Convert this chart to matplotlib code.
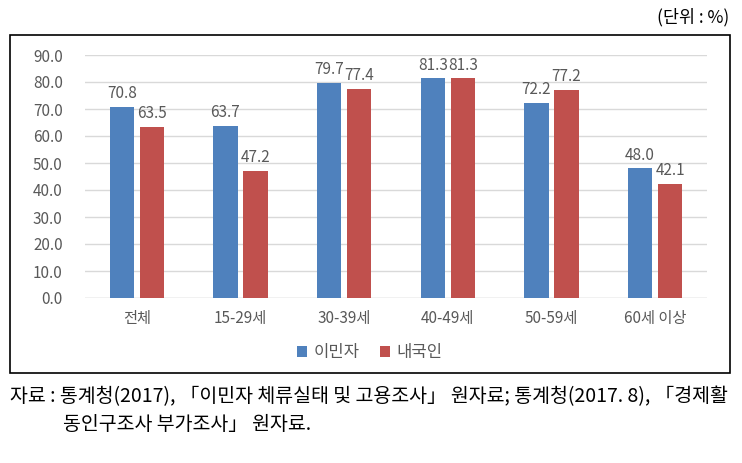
import numpy as np
import matplotlib
matplotlib.use("Agg")
import matplotlib.pyplot as plt
from matplotlib.patches import Rectangle

plt.rcParams['font.family'] = ['Noto Sans CJK KR', 'DejaVu Sans']

# data
categories = ['전체', '15-29세', '30-39세', '40-49세', '50-59세', '60세 이상']
immigrants = [70.8, 63.7, 79.7, 81.3, 72.2, 48.0]
natives = [63.5, 47.2, 77.4, 81.3, 77.2, 42.1]
series_names = ['이민자', '내국인']
yticks = np.arange(0, 91, 10)

blue = '#4F81BD'
red = '#C0504D'
grey = '#595959'

W, H = 742, 463
fig = plt.figure(figsize=(W / 100, H / 100), dpi=100)

# chart frame
fig.patches.append(Rectangle((10 / W, 1 - 373 / H), 720 / W, 338 / H,
                             transform=fig.transFigure, fill=False,
                             edgecolor='black', linewidth=1.2))

ax = fig.add_axes([85 / W, 1 - 298 / H, 622 / W, 243 / H])
x = np.arange(len(categories))
bw = 0.235
off = 0.145
b1 = ax.bar(x - off, immigrants, bw, color=blue, label=series_names[0], zorder=3)
b2 = ax.bar(x + off, natives, bw, color=red, label=series_names[1], zorder=3)

for bars in (b1, b2):
    for rect in bars:
        ax.text(rect.get_x() + rect.get_width() / 2, rect.get_height() + 1.8,
                f"{rect.get_height():.1f}", ha='center', va='bottom',
                fontsize=11, color=grey)

ax.set_xlim(-0.5, len(categories) - 0.5)
ax.set_ylim(0, 90)
ax.set_yticks(yticks)
ax.set_yticklabels([f"{v:.1f}" for v in yticks], fontsize=11, color=grey)
ax.set_xticks(x)
ax.set_xticklabels(categories, fontsize=11, color=grey)
ax.tick_params(axis='both', length=0)
ax.tick_params(axis='y', pad=16)
ax.tick_params(axis='x', pad=9)
ax.yaxis.grid(True, color='#D9D9D9', linewidth=1, zorder=0)
for s in ax.spines.values():
    s.set_visible(False)
ax.axhline(0, color='#D9D9D9', linewidth=1, zorder=2)

fig.legend(handles=[b1, b2], labels=series_names, loc='center',
           bbox_to_anchor=(370 / W, 1 - 353 / H), ncol=2, frameon=False,
           fontsize=12, labelcolor=grey, handlelength=0.6, handleheight=0.6,
           handletextpad=0.4, columnspacing=1.2)

fig.text(729 / W, 1 - 17 / H, '(단위 : %)', ha='right', va='center', fontsize=12.5)
fig.text(10 / W, 1 - 397 / H,
         '자료 : 통계청(2017), 「이민자 체류실태 및 고용조사」 원자료; 통계청(2017. 8), 「경제활',
         ha='left', va='center', fontsize=14)
fig.text(63 / W, 1 - 425 / H, '동인구조사 부가조사」 원자료.',
         ha='left', va='center', fontsize=14)

fig.savefig('out.png', dpi=100)
